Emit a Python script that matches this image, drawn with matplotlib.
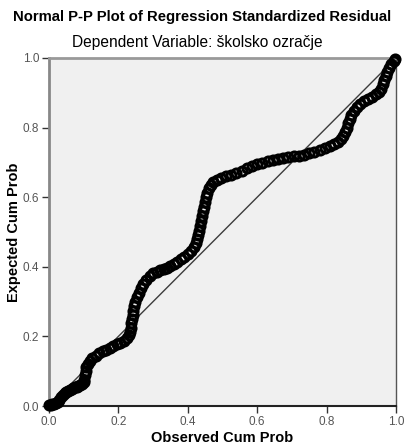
import matplotlib
matplotlib.use("Agg")
import matplotlib.pyplot as plt

plt.rcParams['font.family'] = ['Liberation Sans', 'DejaVu Sans']

title = "Normal P-P Plot of Regression Standardized Residual"
subtitle = "Dependent Variable: školsko ozračje"
xlabel = "Observed Cum Prob"
ylabel = "Expected Cum Prob"
ticks = [0.0, 0.2, 0.4, 0.6, 0.8, 1.0]
tick_labels = ["0.0", "0.2", "0.4", "0.6", "0.8", "1.0"]

observed = [0.000, 0.005, 0.010, 0.015, 0.020, 0.025, 0.030, 0.035, 0.040, 0.045,
            0.050, 0.055, 0.060, 0.065, 0.070, 0.075, 0.080, 0.085, 0.090, 0.095,
            0.100, 0.102, 0.104, 0.106, 0.108, 0.112, 0.118, 0.125, 0.135, 0.145,
            0.155, 0.165, 0.175, 0.185, 0.195, 0.205, 0.215, 0.225, 0.230, 0.233,
            0.235, 0.237, 0.239, 0.241, 0.243, 0.246, 0.249, 0.253, 0.258, 0.265,
            0.272, 0.280, 0.290, 0.300, 0.310, 0.320, 0.330, 0.340, 0.350, 0.360,
            0.370, 0.380, 0.390, 0.400, 0.410, 0.418, 0.423, 0.427, 0.430, 0.433,
            0.436, 0.439, 0.442, 0.445, 0.447, 0.450, 0.453, 0.456, 0.460, 0.466,
            0.474, 0.483, 0.495, 0.510, 0.525, 0.540, 0.555, 0.570, 0.585, 0.600,
            0.615, 0.630, 0.645, 0.660, 0.675, 0.690, 0.705, 0.720, 0.735, 0.750,
            0.765, 0.780, 0.795, 0.810, 0.822, 0.833, 0.842, 0.848, 0.853, 0.858,
            0.862, 0.866, 0.871, 0.878, 0.887, 0.897, 0.908, 0.920, 0.932, 0.943,
            0.952, 0.958, 0.962, 0.966, 0.970, 0.975, 0.981, 0.987, 0.993, 0.998]
expected = [0.003, 0.004, 0.005, 0.006, 0.008, 0.012, 0.018, 0.026, 0.032, 0.036,
            0.040, 0.043, 0.046, 0.049, 0.052, 0.054, 0.056, 0.058, 0.060, 0.063,
            0.068, 0.075, 0.088, 0.100, 0.112, 0.122, 0.130, 0.138, 0.145, 0.151,
            0.157, 0.162, 0.167, 0.172, 0.177, 0.182, 0.188, 0.196, 0.204, 0.214,
            0.225, 0.238, 0.250, 0.262, 0.274, 0.288, 0.300, 0.312, 0.325, 0.338,
            0.350, 0.362, 0.373, 0.381, 0.386, 0.390, 0.394, 0.397, 0.401, 0.407,
            0.414, 0.421, 0.428, 0.437, 0.446, 0.456, 0.468, 0.480, 0.492, 0.504,
            0.518, 0.532, 0.546, 0.560, 0.573, 0.587, 0.600, 0.613, 0.625, 0.635,
            0.643, 0.649, 0.654, 0.660, 0.665, 0.670, 0.676, 0.683, 0.690, 0.695,
            0.699, 0.703, 0.707, 0.710, 0.713, 0.715, 0.717, 0.719, 0.722, 0.726,
            0.730, 0.735, 0.740, 0.746, 0.752, 0.758, 0.766, 0.776, 0.788, 0.800,
            0.812, 0.824, 0.835, 0.847, 0.858, 0.867, 0.875, 0.882, 0.889, 0.896,
            0.903, 0.912, 0.924, 0.936, 0.948, 0.960, 0.971, 0.982, 0.991, 0.998]

fig = plt.figure(figsize=(4.04, 4.48), dpi=100)
fig.patch.set_facecolor('white')
ax = fig.add_axes([49/404, 42/448, 347/404, 348/448])
ax.set_facecolor('#f0f0f0')
ax.set_xlim(0, 1)
ax.set_ylim(0, 1)

ax.plot([0, 1], [0, 1], color='#3c3c3c', lw=1.0, zorder=2)
ax.plot(observed, expected, linestyle='none', marker='o', markersize=6.5,
        markerfacecolor='none', markeredgecolor='black', markeredgewidth=2.2,
        zorder=3, clip_on=False)

ax.set_xticks(ticks)
ax.set_xticklabels(tick_labels)
ax.set_yticks(ticks)
ax.set_yticklabels(tick_labels)
ax.tick_params(direction='out', length=5, width=1, colors='#333333',
               labelcolor='#555555', labelsize=8.5, pad=2)

ax.spines['left'].set_color('#888888')
ax.spines['left'].set_linewidth(2)
ax.spines['top'].set_color('#999999')
ax.spines['top'].set_linewidth(2)
ax.spines['right'].set_color('#555555')
ax.spines['right'].set_linewidth(1)
ax.spines['bottom'].set_color('#222222')
ax.spines['bottom'].set_linewidth(1.5)

ax.set_xlabel(xlabel, fontsize=10.5, fontweight='bold', va='center')
ax.set_ylabel(ylabel, fontsize=10.5, fontweight='bold', va='center')
ax.xaxis.set_label_coords(0.5, (406 - 438) / 348)
ax.yaxis.set_label_coords((14 - 49) / 347, 0.5)

fig.text(0.5, 1 - 17/448, title, ha='center', va='center', fontsize=10.7, fontweight='bold')
fig.text(0.488, 1 - 42/448, subtitle, ha='center', va='center', fontsize=11.2)

fig.savefig('out.png', dpi=100)
